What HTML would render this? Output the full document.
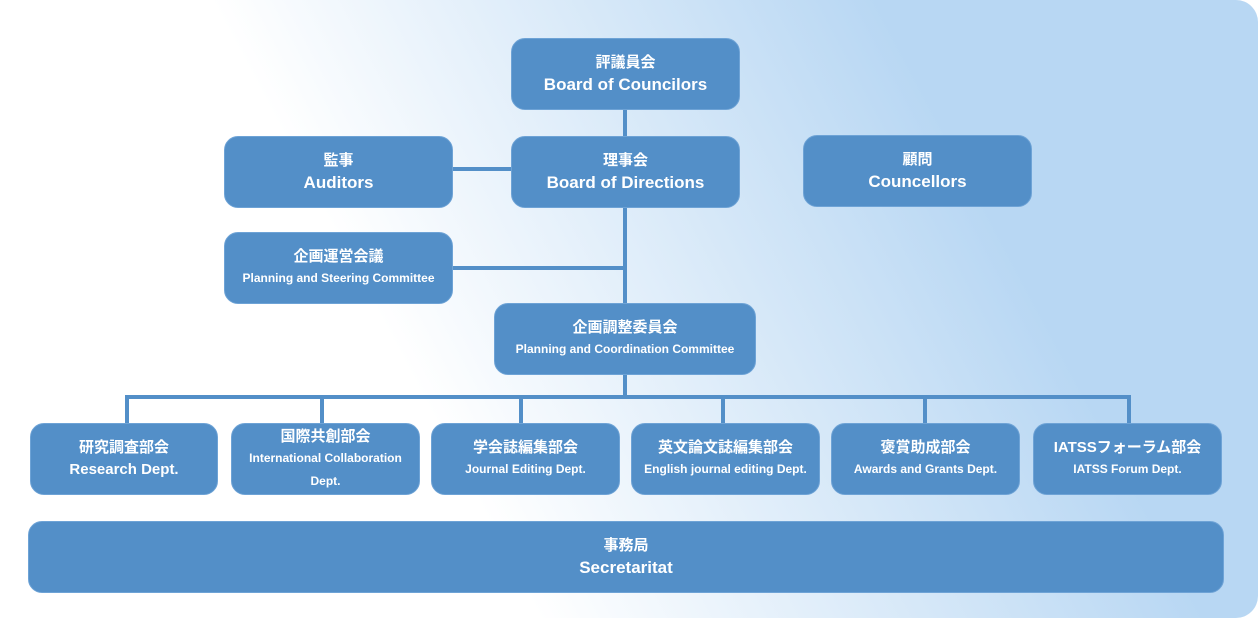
<!DOCTYPE html>
<html><head><meta charset="utf-8"><style>
body{margin:0;width:1258px;height:618px;overflow:hidden;background:#fff;font-family:"Liberation Sans","Noto Sans CJK JP",sans-serif}
#bg{position:absolute;left:0;top:0;width:1258px;height:618px;border-radius:0 22px 22px 0;background:linear-gradient(62deg,#ffffff 34%,#b8d7f3 76%)}
.b{position:absolute;background:#538fc8;border:1px solid #6ea3d6;box-sizing:border-box;border-radius:14px;color:#fff;display:flex;flex-direction:column;align-items:center;justify-content:center;text-align:center;font-weight:bold}
.j{font-size:15px;line-height:21px}
.e{font-size:17px;line-height:23px;font-weight:bold}
.s{font-size:12px;line-height:23px;font-weight:bold}
.l{position:absolute;background:#538fc8}
</style></head><body>
<div id="bg"></div>
<div class="l" style="left:623px;top:108px;width:4px;height:196px"></div>
<div class="l" style="left:451px;top:167px;width:62px;height:4px"></div>
<div class="l" style="left:451px;top:266px;width:176px;height:4px"></div>
<div class="l" style="left:623px;top:373px;width:4px;height:26px"></div>
<div class="l" style="left:125px;top:395px;width:1006px;height:4px"></div>
<div class="l" style="left:125px;top:395px;width:4px;height:30px"></div>
<div class="l" style="left:320px;top:395px;width:4px;height:30px"></div>
<div class="l" style="left:519px;top:395px;width:4px;height:30px"></div>
<div class="l" style="left:721px;top:395px;width:4px;height:30px"></div>
<div class="l" style="left:923px;top:395px;width:4px;height:30px"></div>
<div class="l" style="left:1127px;top:395px;width:4px;height:30px"></div>

<div class="b" style="left:511px;top:38px;width:229px;height:72px"><div class="j">評議員会</div><div class="e">Board of Councilors</div></div>
<div class="b" style="left:224px;top:136px;width:229px;height:72px"><div class="j">監事</div><div class="e">Auditors</div></div>
<div class="b" style="left:511px;top:136px;width:229px;height:72px"><div class="j">理事会</div><div class="e">Board of Directions</div></div>
<div class="b" style="left:803px;top:135px;width:229px;height:72px"><div class="j">顧問</div><div class="e">Councellors</div></div>
<div class="b" style="left:224px;top:232px;width:229px;height:72px"><div class="j">企画運営会議</div><div class="s">Planning and Steering Committee</div></div>
<div class="b" style="left:494px;top:303px;width:262px;height:72px"><div class="j">企画調整委員会</div><div class="s">Planning and Coordination Committee</div></div>

<div class="b" style="left:30px;top:423px;width:188px;height:72px"><div class="j">研究調査部会</div><div class="e" style="font-size:15px">Research Dept.</div></div>
<div class="b" style="left:231px;top:423px;width:189px;height:72px"><div class="j">国際共創部会</div><div class="s">International Collaboration<br>Dept.</div></div>
<div class="b" style="left:431px;top:423px;width:189px;height:72px"><div class="j">学会誌編集部会</div><div class="s">Journal Editing Dept.</div></div>
<div class="b" style="left:631px;top:423px;width:189px;height:72px"><div class="j">英文論文誌編集部会</div><div class="s">English journal editing Dept.</div></div>
<div class="b" style="left:831px;top:423px;width:189px;height:72px"><div class="j">褒賞助成部会</div><div class="s">Awards and Grants Dept.</div></div>
<div class="b" style="left:1033px;top:423px;width:189px;height:72px"><div class="j">IATSSフォーラム部会</div><div class="s">IATSS Forum Dept.</div></div>

<div class="b" style="left:28px;top:521px;width:1196px;height:72px"><div class="j">事務局</div><div class="e">Secretaritat</div></div>
</body></html>
